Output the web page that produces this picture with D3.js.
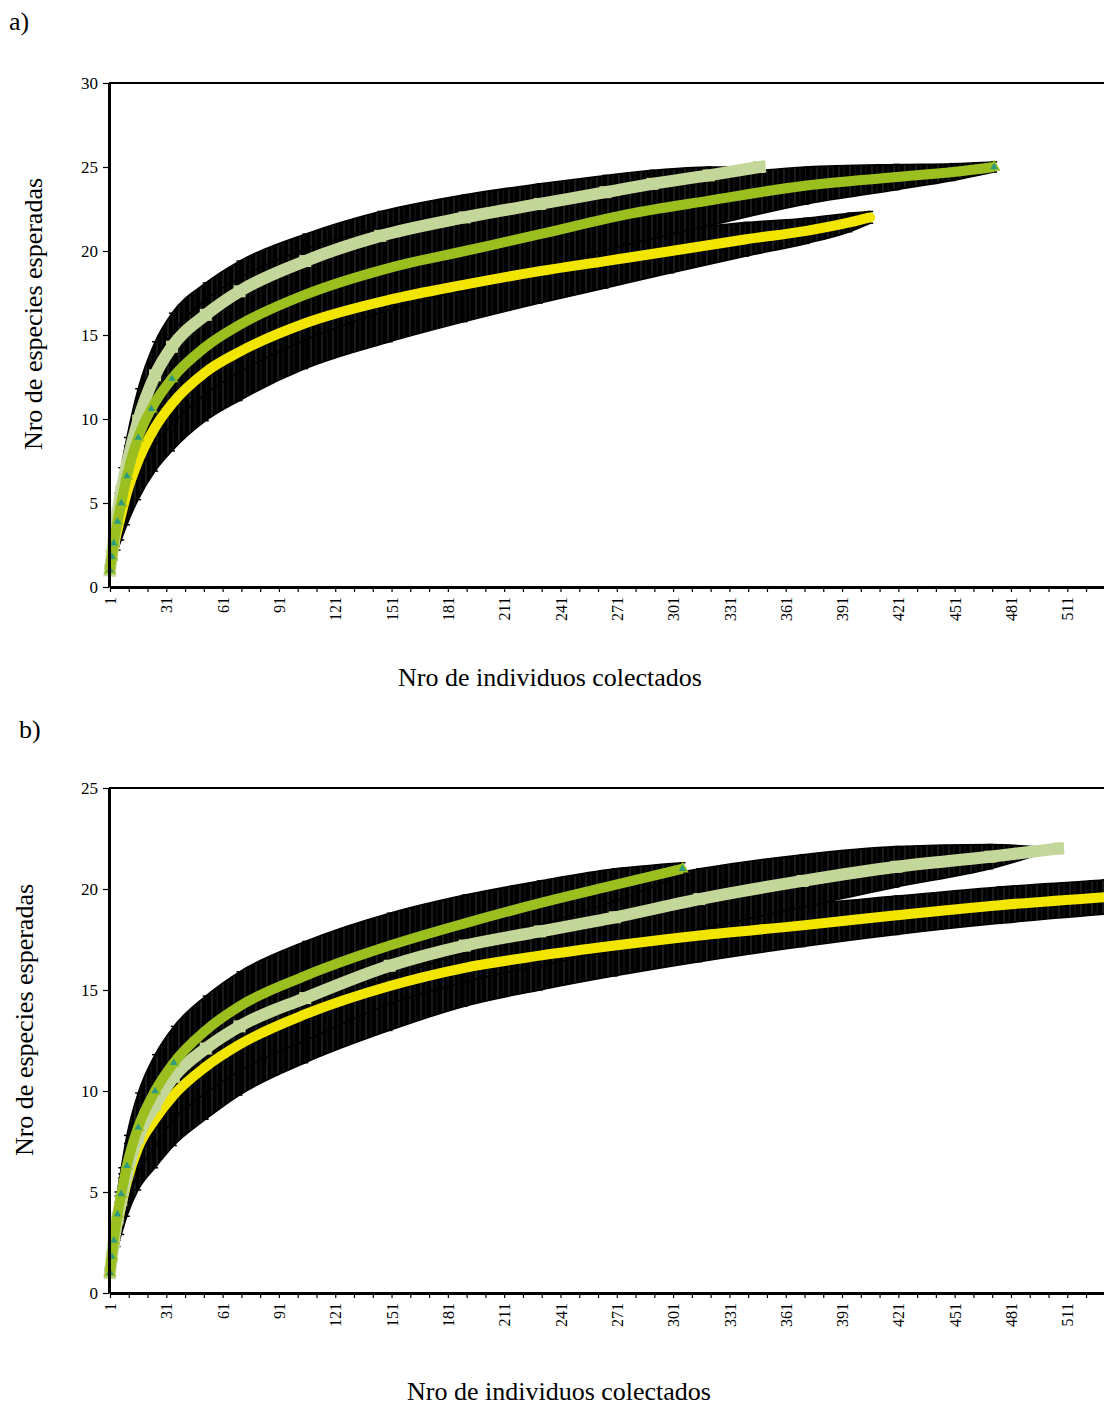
<!DOCTYPE html>
<html>
<head>
<meta charset="utf-8">
<script src="https://d3js.org/d3.v7.min.js"></script>
<style>
  body { margin: 0; background: #fff; }
  text { font-family: "Liberation Serif", "Times New Roman", serif; }
</style>
</head>
<body>
<div id="chart"></div>
<script>
// ---- panel a) data: n individuals, expected species, 95% half-width
var aLightN  = [1,2,3,5,7,10,16,25,34,52,70,105,145,190,230,265,290,320,347];
var aLightS  = [1,1.9,2.8,4.4,5.7,7.3,9.9,12.6,14.3,16.2,17.6,19.4,20.9,22.0,22.8,23.5,24.0,24.5,25.0];
var aLightCI = [0,0.5,0.8,1.2,1.4,1.6,1.9,2.0,2.0,1.9,1.8,1.6,1.45,1.35,1.2,1.0,0.8,0.5,0];

var aGreenN  = [1,2,3,5,7,10,16,23,34,52,70,105,150,190,230,277,320,372,420,450,472];
var aGreenS  = [1,1.8,2.6,3.9,5.0,6.6,8.9,10.6,12.4,14.3,15.6,17.4,19.0,20.0,21.0,22.2,23.0,23.9,24.4,24.7,25.0];
var aGreenCI = [0,0.5,0.8,1.2,1.5,1.8,2.2,2.5,2.7,2.8,2.8,2.7,2.5,2.3,2.1,1.8,1.5,1.1,0.75,0.5,0.3];

var aYellowN  = [1,2,3,5,7,10,16,25,34,52,70,105,150,190,230,265,300,340,372,395,406];
var aYellowS  = [1,1.6,2.3,3.4,4.3,5.6,7.5,9.5,10.9,12.8,14.0,15.7,17.1,18.0,18.8,19.4,20.0,20.7,21.2,21.7,22.0];
var aYellowCI = [0,0.5,0.8,1.2,1.5,1.9,2.3,2.6,2.8,2.9,2.9,2.7,2.5,2.2,1.9,1.6,1.3,1.0,0.75,0.55,0.35];

// ---- panel b) data
var bGreenN  = [1,2,3,5,7,10,16,25,35,52,70,105,150,190,230,270,306];
var bGreenS  = [1,1.8,2.6,3.9,4.9,6.3,8.2,10.0,11.4,13.0,14.2,15.7,17.2,18.3,19.3,20.2,21.0];
var bGreenCI = [0,0.5,0.8,1.1,1.3,1.5,1.7,1.8,1.8,1.7,1.7,1.7,1.6,1.4,1.1,0.8,0.3];

var bLightN  = [1,2,3,5,7,10,16,25,35,52,70,105,150,190,230,270,315,370,420,470,506];
var bLightS  = [1,1.8,2.5,3.7,4.6,5.9,7.7,9.3,10.7,12.1,13.2,14.6,16.2,17.2,17.9,18.6,19.5,20.4,21.1,21.6,22.0];
var bLightCI = [0,0.5,0.8,1.1,1.3,1.5,1.8,2.0,2.1,2.2,2.2,2.1,1.9,1.8,1.7,1.6,1.5,1.3,1.0,0.6,0];

var bYellowN  = [1,2,3,5,7,10,16,25,35,52,70,105,150,190,230,270,315,370,420,475,531];
var bYellowS  = [1,1.7,2.4,3.4,4.3,5.5,7.2,8.6,9.8,11.2,12.3,13.8,15.2,16.1,16.7,17.2,17.7,18.2,18.7,19.2,19.6];
var bYellowCI = [0,0.5,0.8,1.1,1.4,1.7,2.1,2.4,2.5,2.6,2.5,2.4,2.2,1.9,1.7,1.5,1.3,1.05,0.95,0.9,0.85];

// axis ticks
var xTicks = d3.range(1, 532, 10);
var aYTicks = [0,5,10,15,20,25,30];
var bYTicks = [0,5,10,15,20,25];

var LIGHT = '#c4d79b', GREEN = '#9bbf1f', YELLOW = '#f2e600', TEAL = '#2e9c7c';

var width = 1104, height = 1408;
var svg = d3.select('#chart').append('svg')
  .attr('width', width).attr('height', height);

// faint vertical streaks inside the black error bands
var defs = svg.append('defs');
var pat = defs.append('pattern')
  .attr('id', 'streaks').attr('patternUnits', 'userSpaceOnUse')
  .attr('width', 11).attr('height', 40);
pat.append('rect').attr('width', 11).attr('height', 40).attr('fill', '#000');
pat.append('line').attr('x1', 3).attr('x2', 3).attr('y1', 0).attr('y2', 40)
  .attr('stroke', '#555').attr('stroke-width', 0.6);
pat.append('line').attr('x1', 8).attr('x2', 8).attr('y1', 0).attr('y2', 40)
  .attr('stroke', '#333').attr('stroke-width', 0.5);

function zip(ns, ss, cis) {
  return ns.map(function(n, i) { return {n: n, s: ss[i], ci: cis[i]}; });
}

function drawPanel(p) {
  var x = d3.scaleLinear().domain([1, 532]).range([110, 110 + 531 * 1.877]);
  var y = d3.scaleLinear().domain([0, p.yMax]).range([p.bottom, p.top]);

  var clipId = 'clip' + p.id;
  defs.append('clipPath').attr('id', clipId)
    .append('rect').attr('x', 100).attr('y', p.top - 20)
    .attr('width', 1010).attr('height', p.bottom - p.top + 20);

  var g = svg.append('g').attr('clip-path', 'url(#' + clipId + ')');

  var area = d3.area().curve(d3.curveMonotoneX)
    .x(function(d) { return x(d.n); })
    .y0(function(d) { return y(d.s - d.ci); })
    .y1(function(d) { return y(d.s + d.ci); });
  var line = d3.line().curve(d3.curveMonotoneX)
    .x(function(d) { return x(d.n); })
    .y(function(d) { return y(d.s); });

  // black error bands
  p.series.forEach(function(s) {
    g.append('path').attr('d', area(s.data)).attr('fill', 'url(#streaks)')
      .attr('stroke', '#000').attr('stroke-width', 1.5).attr('stroke-linejoin', 'round');
    // error bars with caps at the read points
    var bars = g.append('g').selectAll('g').data(s.data).join('g');
    bars.append('line')
      .attr('x1', function(d) { return x(d.n); }).attr('x2', function(d) { return x(d.n); })
      .attr('y1', function(d) { return y(d.s - d.ci); }).attr('y2', function(d) { return y(d.s + d.ci); })
      .attr('stroke', '#000').attr('stroke-width', 1);
    [-1, 1].forEach(function(k) {
      bars.append('line')
        .attr('x1', function(d) { return x(d.n) - 3; }).attr('x2', function(d) { return x(d.n) + 3; })
        .attr('y1', function(d) { return y(d.s + k * d.ci); }).attr('y2', function(d) { return y(d.s + k * d.ci); })
        .attr('stroke', '#000').attr('stroke-width', 1.5);
    });
  });

  // curves
  p.series.forEach(function(s) {
    g.append('path').attr('d', line(s.data))
      .attr('fill', 'none').attr('stroke', s.color)
      .attr('stroke-width', s.width).attr('stroke-linecap', s.cap);
    if (s.marker === 'square') {
      g.append('g').selectAll('rect').data(s.data).join('rect')
        .attr('x', function(d) { return x(d.n) - 6; }).attr('y', function(d) { return y(d.s) - 6; })
        .attr('width', 12).attr('height', 12).attr('fill', s.color);
    }
    if (s.marker === 'triangle') {
      var last = s.data[s.data.length - 1];
      var marks = s.data.filter(function(d) { return d.n <= 40 || d === last; });
      g.append('g').selectAll('path').data(marks).join('path')
        .attr('d', d3.symbol().type(d3.symbolTriangle).size(44))
        .attr('transform', function(d) { return 'translate(' + x(d.n) + ',' + y(d.s) + ')'; })
        .attr('fill', TEAL).attr('stroke', s.color).attr('stroke-width', 1.5);
    }
  });

  // frame: top border
  svg.append('line').attr('x1', 109).attr('x2', width).attr('y1', p.top).attr('y2', p.top)
    .attr('stroke', '#000').attr('stroke-width', 2.2);

  // y axis
  var gy = svg.append('g').attr('transform', 'translate(109,0)')
    .call(d3.axisLeft(y).tickValues(p.yTicks).tickSize(6).tickSizeOuter(0).tickPadding(5));
  gy.select('.domain').attr('stroke-width', 3);
  gy.selectAll('.tick line').attr('stroke-width', 1.2);
  gy.selectAll('text').attr('font-size', 17).attr('font-family', 'Liberation Serif').attr('fill', '#000');

  // x axis
  var gx = svg.append('g').attr('transform', 'translate(0,' + p.bottom + ')')
    .call(d3.axisBottom(x).tickValues(xTicks).tickSize(5).tickSizeOuter(0)
      .tickFormat(function(d) { return (d - 1) % 30 === 0 ? d : ''; }));
  gx.select('.domain').attr('stroke-width', 3);
  gx.selectAll('.tick line').attr('stroke-width', 1.2);
  gx.selectAll('text')
    .attr('transform', 'rotate(-90)').attr('text-anchor', 'end')
    .attr('x', -10).attr('y', 0).attr('dy', '0.35em')
    .attr('font-size', 16).attr('font-family', 'Liberation Serif').attr('fill', '#000');

  // titles
  svg.append('text').attr('x', p.labelX).attr('y', p.labelY)
    .attr('font-size', 26).text(p.label);
  svg.append('text')
    .attr('transform', 'translate(' + p.yTitleX + ',' + p.yTitleY + ') rotate(-90)')
    .attr('text-anchor', 'middle').attr('font-size', 26)
    .text('Nro de especies esperadas');
  svg.append('text').attr('x', p.xTitleX).attr('y', p.xTitleY)
    .attr('text-anchor', 'middle').attr('font-size', 26)
    .text('Nro de individuos colectados');
}

drawPanel({
  id: 'a', top: 83, bottom: 587, yMax: 30, yTicks: aYTicks,
  label: 'a)', labelX: 9, labelY: 30,
  yTitleX: 42, yTitleY: 314, xTitleX: 550, xTitleY: 686,
  series: [
    {data: zip(aYellowN, aYellowS, aYellowCI), color: YELLOW, width: 10, cap: 'round', marker: 'none'},
    {data: zip(aLightN, aLightS, aLightCI), color: LIGHT, width: 12, cap: 'square', marker: 'square'},
    {data: zip(aGreenN, aGreenS, aGreenCI), color: GREEN, width: 10, cap: 'butt', marker: 'triangle'}
  ]
});

drawPanel({
  id: 'b', top: 788, bottom: 1293, yMax: 25, yTicks: bYTicks,
  label: 'b)', labelX: 19, labelY: 738,
  yTitleX: 33, yTitleY: 1020, xTitleX: 559, xTitleY: 1400,
  series: [
    {data: zip(bYellowN, bYellowS, bYellowCI), color: YELLOW, width: 10, cap: 'round', marker: 'none'},
    {data: zip(bLightN, bLightS, bLightCI), color: LIGHT, width: 12, cap: 'square', marker: 'square'},
    {data: zip(bGreenN, bGreenS, bGreenCI), color: GREEN, width: 10, cap: 'butt', marker: 'triangle'}
  ]
});
</script>
</body>
</html>
